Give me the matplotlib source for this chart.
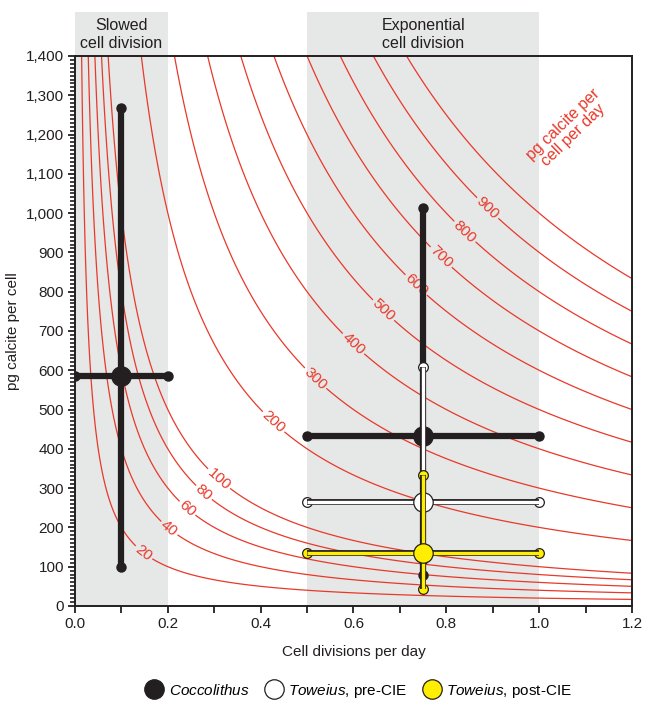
"""Calcite production per cell: contours of pg calcite per cell per day."""

import matplotlib
matplotlib.use("Agg")
import matplotlib.pyplot as plt
from matplotlib.lines import Line2D
from matplotlib.ticker import FuncFormatter, MultipleLocator
import numpy as np

plt.rcParams["font.family"] = ["Liberation Sans", "DejaVu Sans"]
plt.rcParams["mathtext.fontset"] = "custom"
plt.rcParams["mathtext.it"] = "Liberation Sans:italic"
plt.rcParams["mathtext.rm"] = "Liberation Sans"

# contour levels (pg calcite per cell per day) and where their labels sit
LEVELS = [20, 40, 60, 80, 100, 200, 300, 400, 500, 600, 700, 800, 900, 1000]
LABEL_POS = [
    (0.151, 140), (0.209, 206), (0.252, 262), (0.284, 297), (0.317, 333),
    (0.435, 478), (0.528, 592), (0.610, 680), (0.672, 762), (0.739, 822),
    (0.793, 893), (0.841, 954), (0.899, 1025),
]

# shaded growth regimes
REGIMES = ["Slowed\ncell division", "Exponential\ncell division"]
REGIME_X0 = [0.0, 0.5]
REGIME_X1 = [0.2, 1.0]

# error-bar crosses: Coccolithus (slowed), Coccolithus, Toweius pre-CIE, Toweius post-CIE
X_CENTER = [0.1, 0.75, 0.75, 0.75]
Y_CENTER = [586, 433, 264, 136]
X_LO = [0.0, 0.5, 0.5, 0.5]
X_HI = [0.2, 1.0, 1.0, 1.0]
Y_LO = [98, 79, 120, 42]
Y_HI = [1268, 1013, 609, 333]
FACE = ["#231f20", "#231f20", "white", "#ffee00"]

LEGEND_LABELS = [
    r"$\mathit{Coccolithus}$",
    r"$\mathit{Toweius}$, pre-CIE",
    r"$\mathit{Toweius}$, post-CIE",
]
LEGEND_FACE = ["#231f20", "white", "#ffee00"]

RED = "#e8392a"
GREY = "#e6e7e7"
INK = "#231f20"

fig = plt.figure(figsize=(6.46, 7.02), dpi=100)
ax = fig.add_axes([0.1161, 0.1368, 0.8622, 0.7835])
ax.set_xlim(0, 1.2)
ax.set_ylim(0, 1400)

for name, x0, x1 in zip(REGIMES, REGIME_X0, REGIME_X1):
    ax.axvspan(x0, x1, ymin=0, ymax=1.08, color=GREY, lw=0, clip_on=False, zorder=0)
    ax.text((x0 + x1) / 2, 1455, name, ha="center", va="center", fontsize=11.5,
            color=INK, linespacing=1.25)

xs = np.linspace(0.0005, 1.2, 1500)
ys = np.linspace(0, 1400, 800)
X, Y = np.meshgrid(xs, ys)
cs = ax.contour(X, Y, X * Y, levels=LEVELS, colors=RED, linewidths=0.9, zorder=1)
ax.clabel(cs, levels=LEVELS[:-1], manual=LABEL_POS, fmt="%d", fontsize=11,
          colors=RED, inline=True, inline_spacing=2)

ax.text(1.062, 1211, "pg calcite per\ncell per day", rotation=44, ha="center",
        va="center", color=RED, fontsize=11.5, linespacing=1.0)

for i in range(len(X_CENTER)):
    z = 3 + i
    face = FACE[i]
    if face == INK:
        ax.plot([X_LO[i], X_HI[i]], [Y_CENTER[i]] * 2, color=INK, lw=4.5, zorder=z)
        ax.plot([X_CENTER[i]] * 2, [Y_LO[i], Y_HI[i]], color=INK, lw=4.5, zorder=z)
        ax.plot([X_LO[i], X_HI[i], X_CENTER[i], X_CENTER[i]],
                [Y_CENTER[i], Y_CENTER[i], Y_LO[i], Y_HI[i]],
                ls="none", marker="o", ms=6.5, color=INK, zorder=z)
    else:
        ax.plot([X_LO[i], X_HI[i], X_CENTER[i], X_CENTER[i]],
                [Y_CENTER[i], Y_CENTER[i], Y_LO[i], Y_HI[i]],
                ls="none", marker="o", ms=7, mfc=face, mec=INK, mew=0.9, zorder=z)
        ax.plot([X_LO[i], X_HI[i]], [Y_CENTER[i]] * 2, color=INK, lw=4.2, zorder=z,
                solid_capstyle="butt")
        ax.plot([X_CENTER[i]] * 2, [Y_LO[i], Y_HI[i]], color=INK, lw=4.2, zorder=z,
                solid_capstyle="butt")
        ax.plot([X_LO[i], X_HI[i]], [Y_CENTER[i]] * 2, color=face, lw=2.4, zorder=z,
                solid_capstyle="butt")
        ax.plot([X_CENTER[i]] * 2, [Y_LO[i], Y_HI[i]], color=face, lw=2.4, zorder=z,
                solid_capstyle="butt")
    ax.plot(X_CENTER[i], Y_CENTER[i], ls="none", marker="o", ms=14, mfc=face,
            mec=INK, mew=0.9, zorder=z)

for side in ["left", "bottom", "top", "right"]:
    ax.spines[side].set_color(INK)
    ax.spines[side].set_linewidth(1.4)

ax.xaxis.set_major_locator(MultipleLocator(0.2))
ax.xaxis.set_minor_locator(MultipleLocator(0.1))
ax.xaxis.set_major_formatter(FuncFormatter(lambda v, _: f"{v:.1f}"))
ax.yaxis.set_major_locator(MultipleLocator(100))
ax.yaxis.set_minor_locator(MultipleLocator(10))
ax.yaxis.set_major_formatter(FuncFormatter(lambda v, _: f"{int(v):,}"))
ax.tick_params(axis="both", which="major", direction="out", length=5, width=1.3,
               colors=INK, labelsize=11, pad=3)
ax.tick_params(axis="x", which="minor", direction="out", length=5, width=1.3, colors=INK)
ax.tick_params(axis="y", which="minor", direction="out", length=3.5, width=1.2, colors=INK)

ax.set_xlabel("Cell divisions per day", fontsize=11, color=INK, labelpad=10)
ax.set_ylabel("pg calcite per cell", fontsize=11, color=INK, labelpad=4)

handles = [
    Line2D([], [], ls="none", marker="o", ms=14, mfc=f, mec=INK, mew=0.9)
    for f in LEGEND_FACE
]
fig.legend(handles, LEGEND_LABELS, loc="center", bbox_to_anchor=(0.555, 0.016), ncol=3,
           frameon=False, fontsize=11, handletextpad=0.35, columnspacing=1.0,
           handlelength=1.2)

fig.savefig("out.png", dpi=100)
